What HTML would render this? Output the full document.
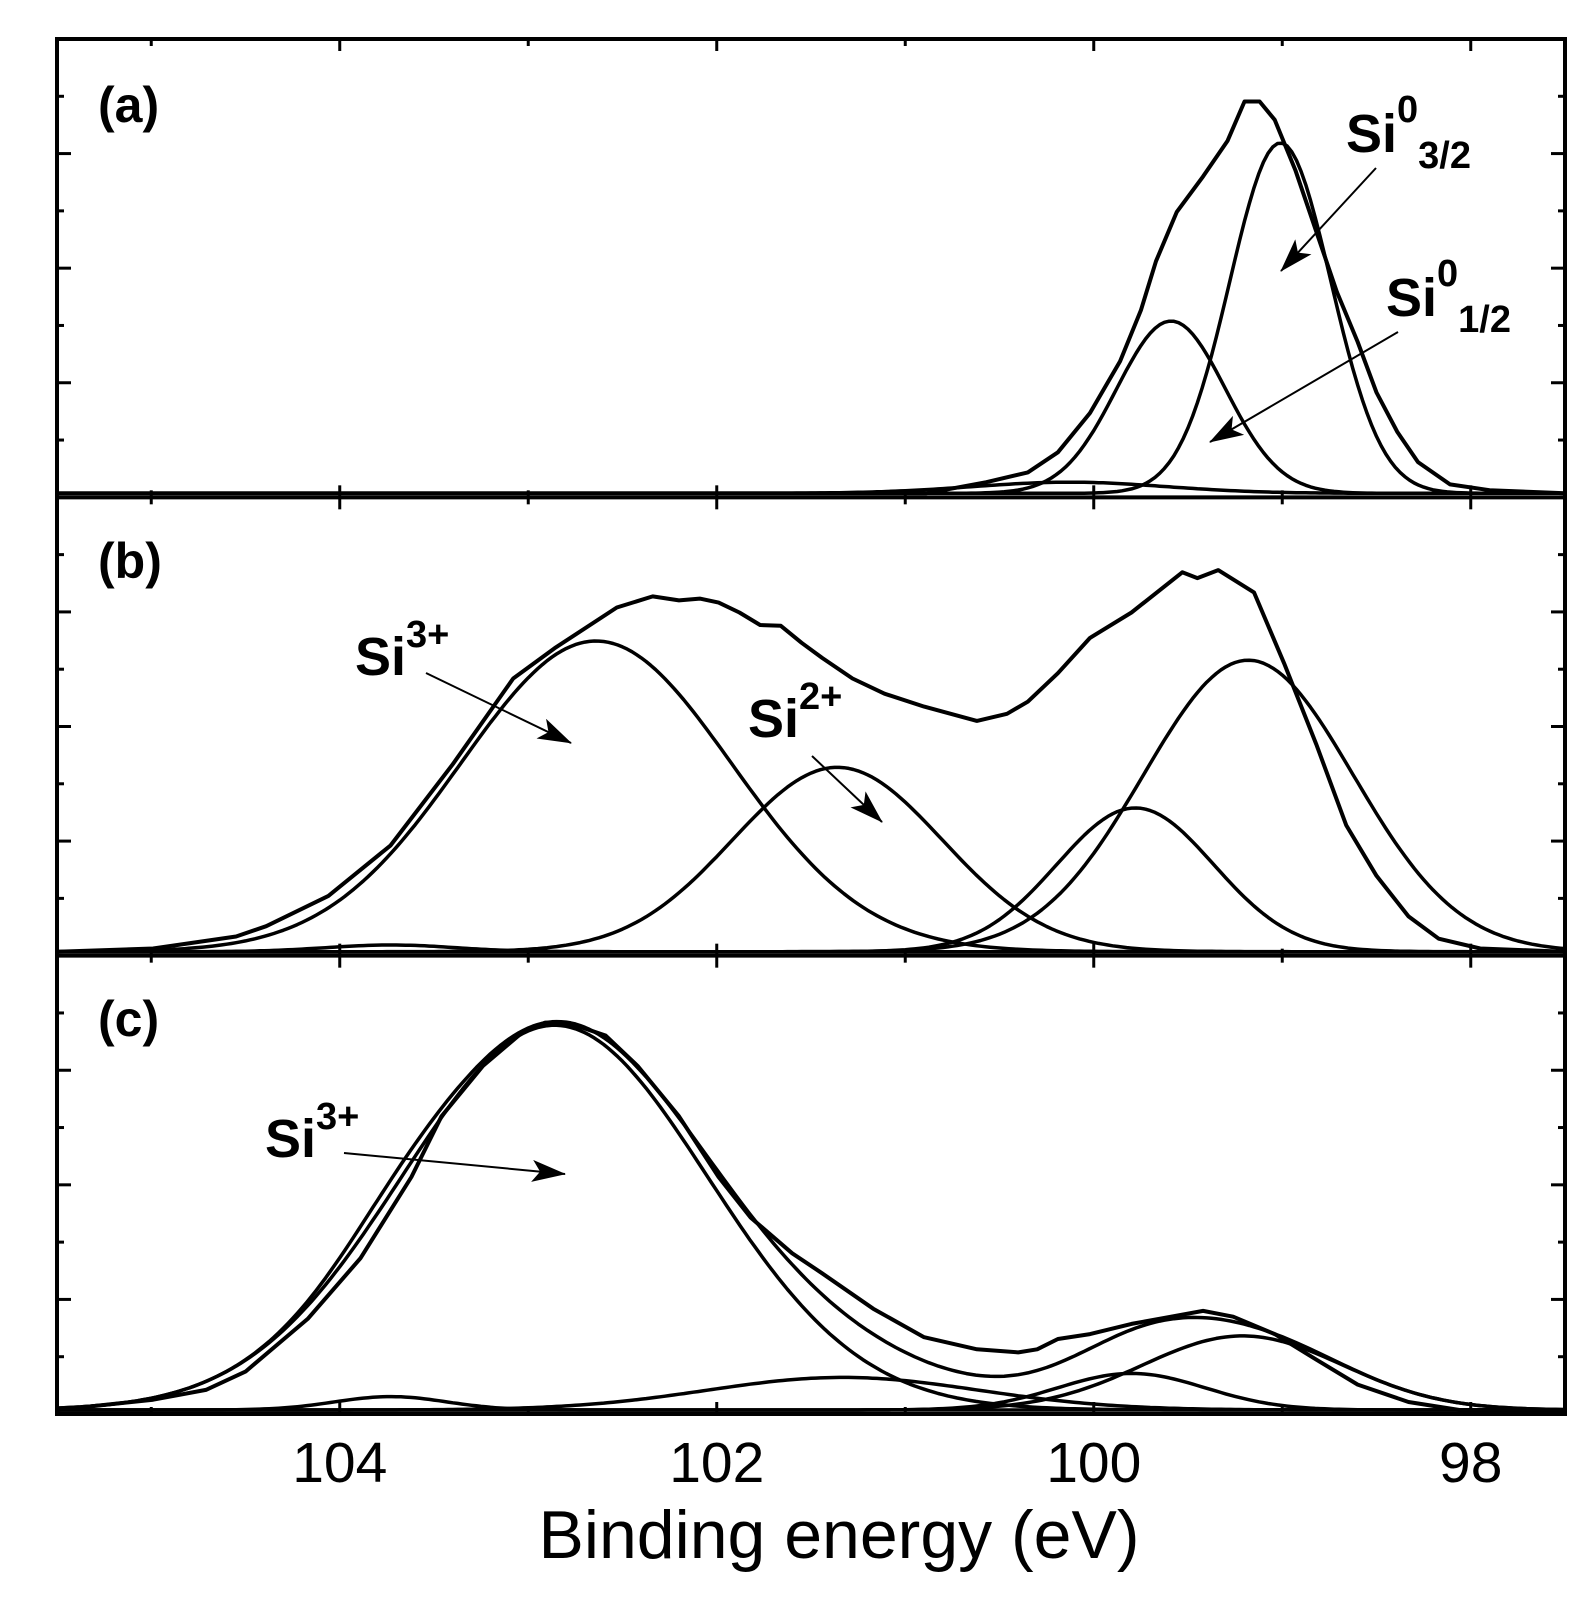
<!DOCTYPE html>
<html><head><meta charset="utf-8"><style>
html,body{margin:0;padding:0;background:#fff;}
svg{display:block;}
text{font-family:"Liberation Sans",Arial,sans-serif;fill:#000;}
</style></head><body>
<svg id="chart" width="1596" height="1616" viewBox="0 0 1596 1616" xmlns="http://www.w3.org/2000/svg">
<defs><marker id="ah" markerWidth="34" markerHeight="22" refX="33" refY="11" orient="auto" markerUnits="userSpaceOnUse" viewBox="0 0 34 22"><path d="M0,0 L34,11 L0,22 L8,11 Z" fill="#000"/></marker></defs>
<g id="curves"></g>
<g id="axes"></g>
<g id="labels">
<text x="98" y="122" font-size="50" font-weight="bold">(a)</text>
<text x="98" y="578" font-size="50" font-weight="bold">(b)</text>
<text x="98" y="1036" font-size="50" font-weight="bold">(c)</text>
<text x="1346" y="152" font-size="54" font-weight="bold">Si<tspan font-size="38" dy="-30">0</tspan><tspan font-size="38" dy="46">3/2</tspan></text>
<text x="1386" y="316" font-size="54" font-weight="bold">Si<tspan font-size="38" dy="-30">0</tspan><tspan font-size="38" dy="46">1/2</tspan></text>
<text x="355" y="675" font-size="54" font-weight="bold">Si<tspan font-size="38" dy="-28">3+</tspan></text>
<text x="748" y="737" font-size="54" font-weight="bold">Si<tspan font-size="38" dy="-28">2+</tspan></text>
<text x="265" y="1157" font-size="54" font-weight="bold">Si<tspan font-size="38" dy="-28">3+</tspan></text>
<line x1="1376" y1="168" x2="1281" y2="271" stroke="#000" stroke-width="2" marker-end="url(#ah)"/>
<line x1="1398" y1="332" x2="1210" y2="442" stroke="#000" stroke-width="2" marker-end="url(#ah)"/>
<line x1="426" y1="673" x2="571" y2="743" stroke="#000" stroke-width="2" marker-end="url(#ah)"/>
<line x1="812" y1="756" x2="882" y2="822" stroke="#000" stroke-width="2" marker-end="url(#ah)"/>
<line x1="344" y1="1153" x2="565" y2="1174" stroke="#000" stroke-width="2" marker-end="url(#ah)"/>
<text x="839" y="1558" font-size="68" text-anchor="middle">Binding energy (eV)</text>
</g>
</svg>
<script>
// x-axis
const xTicks = [104, 102, 100, 98];
const xMinorTicks = [105, 104, 103, 102, 101, 100, 99, 98];
// panel (a) measured envelope
const envA_E = [105.5,100.89,100.57,100.35,100.19,100.02,99.86,99.75,99.67,99.56,99.42,99.29,99.2,99.12,99.04,98.93,98.82,98.71,98.6,98.5,98.39,98.28,98.11,97.9,97.5];
const envA_I = [0,0,0.025,0.047,0.092,0.18,0.296,0.41,0.52,0.63,0.71,0.79,0.878,0.878,0.837,0.724,0.587,0.451,0.339,0.226,0.138,0.07,0.02,0.007,0];
const compA_center = [99.01, 99.59, 100.13];
const compA_height = [0.785, 0.386, 0.025];
const compA_fwhm = [0.63, 0.68, 1.2];
// panel (b)
const envB_E = [105.5,104.99,104.55,104.39,104.06,103.73,103.4,103.08,102.86,102.53,102.34,102.2,102.09,101.99,101.88,101.77,101.66,101.55,101.44,101.28,101.11,100.9,100.62,100.46,100.35,100.19,100.02,99.8,99.53,99.45,99.34,99.15,98.99,98.82,98.66,98.5,98.33,98.17,97.95,97.5];
const envB_I = [0,0.007,0.034,0.057,0.125,0.238,0.42,0.612,0.68,0.771,0.796,0.787,0.791,0.782,0.76,0.732,0.73,0.692,0.658,0.612,0.578,0.549,0.517,0.533,0.56,0.624,0.703,0.76,0.85,0.837,0.855,0.805,0.646,0.465,0.283,0.17,0.079,0.029,0.007,0];
const compB_center = [102.64, 101.36, 99.18, 99.78, 103.73];
const compB_height = [0.696, 0.413, 0.653, 0.322, 0.015];
const compB_fwhm = [1.69, 1.31, 1.31, 0.98, 0.8];
// panel (c)
const envC_E = [105.5,104.99,104.71,104.5,104.17,103.89,103.62,103.46,103.24,103.02,102.91,102.75,102.59,102.42,102.2,101.99,101.82,101.6,101.44,101.17,100.9,100.62,100.4,100.3,100.19,100.02,99.8,99.59,99.42,99.26,99.04,98.82,98.6,98.33,98.06,97.5];
const envC_I = [0,0.023,0.045,0.086,0.204,0.34,0.522,0.658,0.771,0.85,0.868,0.862,0.839,0.771,0.658,0.522,0.431,0.351,0.306,0.227,0.163,0.136,0.129,0.136,0.159,0.17,0.193,0.209,0.222,0.209,0.17,0.113,0.057,0.018,0,0];
const compC_center = [102.86, 101.33, 99.21, 99.8, 103.73];
const compC_height = [0.862, 0.073, 0.166, 0.082, 0.03];
const compC_fwhm = [1.91, 1.7, 1.25, 0.92, 0.7];

const NS = "http://www.w3.org/2000/svg";
const L = 57, R = 1565, T = 39, B = 1414;
const PH = (B - T) / 3;
const E0 = 105.5, E1 = 97.5;
function xs(e) { return L + (E0 - e) / (E0 - E1) * (R - L); }
function panelBase(p) { return T + PH * (p + 1) - 4; }
function ys(p, v) { return panelBase(p) - v * (PH - 12); }
function gauss(e, c, h, w) { const s = w / 2.3548; return h * Math.exp(-0.5 * ((e - c) / s) ** 2); }

const curves = document.getElementById('curves');
const axes = document.getElementById('axes');
function addPath(d, name, sw) {
  const p = document.createElementNS(NS, 'path');
  p.setAttribute('d', d);
  p.setAttribute('fill', 'none');
  p.setAttribute('stroke', '#000');
  p.setAttribute('stroke-width', sw);
  p.setAttribute('stroke-linejoin', 'round');
  
  
  curves.appendChild(p);
}
const panels = [
  {E: envA_E, I: envA_I, c: compA_center, h: compA_height, w: compA_fwhm, n: 'a', sum: false},
  {E: envB_E, I: envB_I, c: compB_center, h: compB_height, w: compB_fwhm, n: 'b', sum: false},
  {E: envC_E, I: envC_I, c: compC_center, h: compC_height, w: compC_fwhm, n: 'c', sum: true}
];
panels.forEach((pn, p) => {
  let d = '';
  pn.E.forEach((e, i) => { d += (i ? 'L' : 'M') + xs(e).toFixed(1) + ',' + ys(p, pn.I[i]).toFixed(1); });
  addPath(d, 'envelope-' + pn.n, 4);
  const steps = 320;
  if (pn.sum) {
    let ds = '';
    for (let k = 0; k <= steps; k++) {
      const e = E0 - (E0 - E1) * k / steps;
      let s = 0;
      pn.c.forEach((c, j) => { s += gauss(e, c, pn.h[j], pn.w[j]); });
      ds += (k ? 'L' : 'M') + xs(e).toFixed(1) + ',' + ys(p, s).toFixed(1);
    }
    addPath(ds, 'fit-sum-' + pn.n, 3.5);
  }
  pn.c.forEach((c, j) => {
    let dc = '';
    for (let k = 0; k <= steps; k++) {
      const e = E0 - (E0 - E1) * k / steps;
      dc += (k ? 'L' : 'M') + xs(e).toFixed(1) + ',' + ys(p, gauss(e, c, pn.h[j], pn.w[j])).toFixed(1);
    }
    addPath(dc, 'component-' + pn.n + '-' + j, 3.5);
  });
});
function line(x1, y1, x2, y2, sw, name) {
  const l = document.createElementNS(NS, 'line');
  l.setAttribute('x1', x1); l.setAttribute('y1', y1);
  l.setAttribute('x2', x2); l.setAttribute('y2', y2);
  l.setAttribute('stroke', '#000'); l.setAttribute('stroke-width', sw);
  
  
  axes.appendChild(l);
}
const fr = document.createElementNS(NS, 'rect');
fr.setAttribute('x', L); fr.setAttribute('y', T);
fr.setAttribute('width', R - L); fr.setAttribute('height', B - T);
fr.setAttribute('fill', 'none'); fr.setAttribute('stroke', '#000'); fr.setAttribute('stroke-width', 4);


axes.appendChild(fr);
line(L, T + PH, R, T + PH, 4, 'panel-divider-ab');
line(L, T + 2 * PH, R, T + 2 * PH, 4, 'panel-divider-bc');
for (let p = 0; p < 3; p++) {
  const bot = T + PH * (p + 1);
  for (let k = 1; k <= 7; k++) {
    const y = bot - k * PH / 8;
    const len = k % 2 === 0 ? 14 : 7;
    line(L, y, L + len, y, 3, 'y-tick');
    line(R, y, R - len, y, 3, 'y-tick');
  }
  xMinorTicks.forEach(e => {
    const len = xTicks.includes(e) ? 12 : 7;
    line(xs(e), bot, xs(e), bot - len, 3, 'x-tick');
    line(xs(e), bot - PH, xs(e), bot - PH + len, 3, 'x-tick');
  });
}
xTicks.forEach(e => {
  const t = document.createElementNS(NS, 'text');
  t.setAttribute('x', xs(e)); t.setAttribute('y', 1482);
  t.setAttribute('font-size', 57); t.setAttribute('text-anchor', 'middle');
  
  
  t.textContent = e;
  axes.appendChild(t);
});
</script>
</body></html>
